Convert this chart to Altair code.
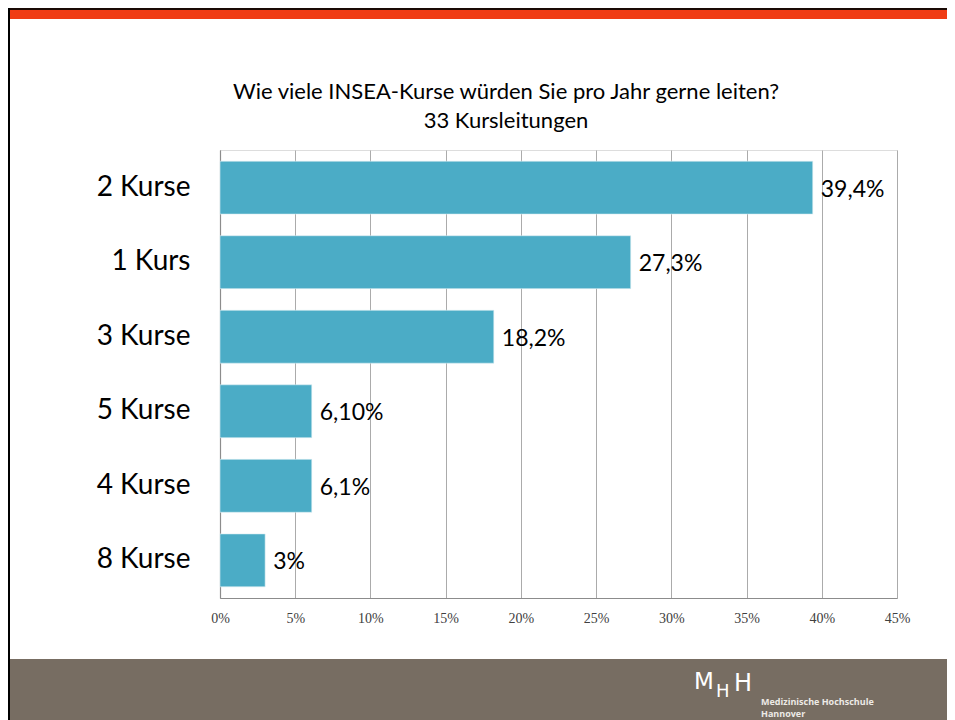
import altair as alt
import pandas as pd

categories = ["2 Kurse", "1 Kurs", "3 Kurse", "5 Kurse", "4 Kurse", "8 Kurse"]
shares = [0.394, 0.273, 0.182, 0.061, 0.061, 0.03]
value_labels = ["39,4%", "27,3%", "18,2%", "6,10%", "6,1%", "3%"]
tick_values = [0, 0.05, 0.10, 0.15, 0.20, 0.25, 0.30, 0.35, 0.40, 0.45]
title_lines = ["Wie viele INSEA-Kurse würden Sie pro Jahr gerne leiten?", "33 Kursleitungen"]

df = pd.DataFrame({"cat": categories, "share": shares, "label": value_labels})

BAR = "#4BACC6"
FONT = "Lato"

y_enc = alt.Y(
    "cat:N",
    sort=categories,
    scale=alt.Scale(paddingInner=0.29, paddingOuter=0.15),
    axis=alt.Axis(
        title=None, ticks=False, labelFont=FONT, labelFontSize=28,
        labelColor="#000000", labelPadding=30, domainColor="#8C8C8C",
        domainWidth=1.2,
    ),
)
x_enc = alt.X(
    "share:Q",
    scale=alt.Scale(domain=[0, 0.45], nice=False),
    axis=alt.Axis(
        title=None, values=tick_values, format=".0%", grid=True,
        gridColor="#ABABAB", gridWidth=1, ticks=False, domainColor="#8C8C8C",
        domainWidth=1.2, labelFont="Liberation Serif", labelFontSize=14,
        labelColor="#404040", labelPadding=13, labelFlush=False,
    ),
)

bars = alt.Chart(df).mark_bar(color=BAR, stroke="#DDEFF4", strokeWidth=0.6).encode(x=x_enc, y=y_enc)

texts = alt.Chart(df).mark_text(
    align="left", baseline="middle", dx=8, dy=2, font=FONT, fontSize=23, color="#000000"
).encode(x="share:Q", y=alt.Y("cat:N", sort=categories), text="label:N")

# slide decorations (frame, header stripe, title, footer with logo)
deco = pd.DataFrame({"k": [0]})
footer = alt.Chart(deco).mark_rect(color="#776D62").encode(
    x=alt.value(-212), x2=alt.value(727), y=alt.value(509), y2=alt.value(570)
)
top_black = alt.Chart(deco).mark_rect(color="#1A0A05").encode(
    x=alt.value(-212), x2=alt.value(727), y=alt.value(-142), y2=alt.value(-140)
)
top_orange = alt.Chart(deco).mark_rect(color="#F03C15").encode(
    x=alt.value(-210), x2=alt.value(727), y=alt.value(-140), y2=alt.value(-131)
)
left_black = alt.Chart(deco).mark_rect(color="#000000").encode(
    x=alt.value(-212), x2=alt.value(-210), y=alt.value(-142), y2=alt.value(570)
)

title1 = alt.Chart(deco).mark_text(
    text=title_lines[0], align="center", baseline="middle", font=FONT, fontSize=22, color="#000000"
).encode(x=alt.value(286), y=alt.value(-58))
title2 = alt.Chart(deco).mark_text(
    text=title_lines[1], align="center", baseline="middle", font=FONT, fontSize=22, color="#000000"
).encode(x=alt.value(286), y=alt.value(-29))

logo_m = alt.Chart(deco).mark_text(
    text="M", align="left", baseline="alphabetic", font="DejaVu Sans", fontSize=23, color="#FFFFFF"
).encode(x=alt.value(474), y=alt.value(539))
logo_h1 = alt.Chart(deco).mark_text(
    text="H", align="left", baseline="alphabetic", font="DejaVu Sans", fontSize=18, color="#FFFFFF"
).encode(x=alt.value(496), y=alt.value(547))
logo_h2 = alt.Chart(deco).mark_text(
    text="H", align="left", baseline="alphabetic", font="DejaVu Sans", fontSize=24, color="#FFFFFF"
).encode(x=alt.value(514), y=alt.value(541))
logo_t1 = alt.Chart(deco).mark_text(
    text="Medizinische Hochschule", align="left", baseline="alphabetic", font="Open Sans",
    fontSize=9, fontWeight="bold", color="#EDEAE6"
).encode(x=alt.value(541), y=alt.value(555))
logo_t2 = alt.Chart(deco).mark_text(
    text="Hannover", align="left", baseline="alphabetic", font="Open Sans",
    fontSize=9, fontWeight="bold", color="#EDEAE6"
).encode(x=alt.value(541), y=alt.value(567))

chart = alt.layer(
    footer, top_black, top_orange, left_black, title1, title2,
    logo_m, logo_h1, logo_h2, logo_t1, logo_t2,
    bars, texts,
).properties(
    width=677,
    height=448,
    autosize=alt.AutoSizeParams(type="none"),
    padding={"left": 212, "top": 142, "right": 50, "bottom": 122},
).configure_view(strokeWidth=0).configure(background="#FFFFFF")

chart.save("out.html", embed_options={"renderer": "svg", "actions": False})
